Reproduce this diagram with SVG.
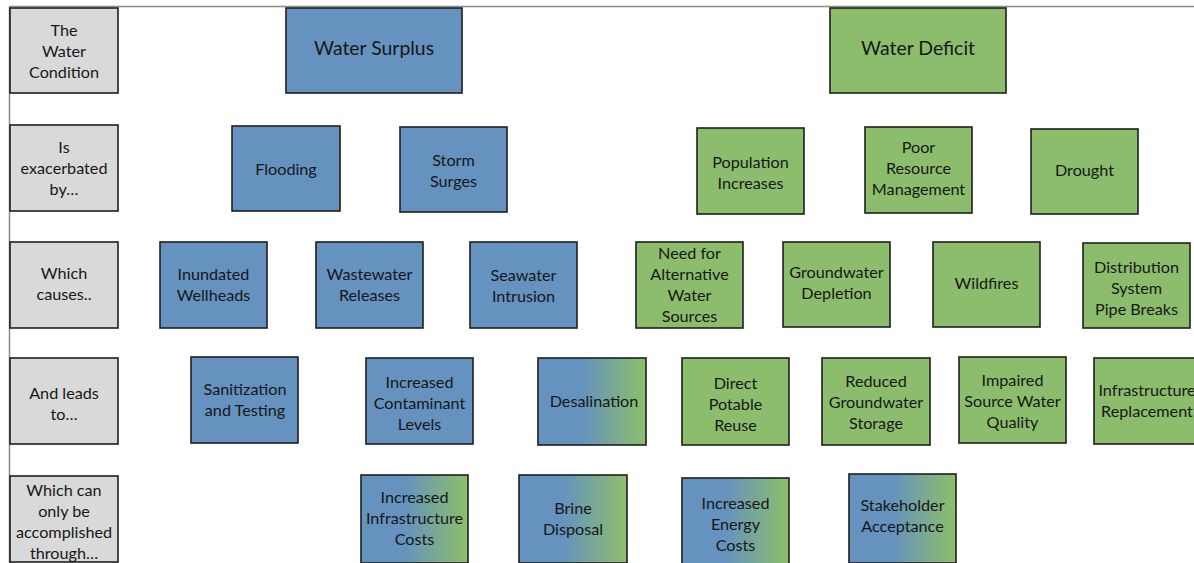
<svg xmlns="http://www.w3.org/2000/svg" width="1194" height="563" viewBox="0 0 1194 563">
<style>
rect{stroke:#1f1f1f;stroke-width:1.6}
.g{fill:#d9d9d9}
.b{fill:#6592be}
.gr{fill:#8cbd6c}
.m{fill:url(#bg)}
text{font-family:Lato,"Liberation Sans",sans-serif;font-size:16.2px;fill:#171717;text-anchor:middle}
.big{font-size:19.4px}
</style>
<defs>
<linearGradient id="bg" x1="0" y1="0" x2="1" y2="0">
<stop offset="0" stop-color="#6592be"/>
<stop offset="0.4" stop-color="#6592be"/>
<stop offset="1" stop-color="#8dbf69"/>
</linearGradient>
</defs>
<path d="M9.5 563V6.5H1194" fill="none" stroke="#8a8a8a" stroke-width="1.5"/>
<g id="lbl1"><rect class="g" x="10" y="8" width="108" height="85"/><text x="64" y="35.5">The</text><text x="64" y="56.5">Water</text><text x="64" y="77.5">Condition</text></g>
<g id="lbl2"><rect class="g" x="10" y="125" width="108" height="86"/><text x="64" y="152.5">Is</text><text x="64" y="173.5">exacerbated</text><text x="64" y="194.5">by…</text></g>
<g id="lbl3"><rect class="g" x="10" y="242" width="108" height="86"/><text x="64" y="279">Which</text><text x="64" y="300">causes..</text></g>
<g id="lbl4"><rect class="g" x="10" y="358" width="108" height="86"/><text x="64" y="399">And leads</text><text x="64" y="420">to…</text></g>
<g id="lbl5"><rect class="g" x="10" y="476" width="108" height="86"/><text x="64" y="495.5">Which can</text><text x="64" y="516.5">only be</text><text x="64" y="537.5">accomplished</text><text x="64" y="558.5">through…</text></g>

<g id="surplus"><rect class="b" x="286" y="8" width="176" height="85"/><text class="big" x="374" y="55">Water Surplus</text></g>
<g id="deficit"><rect class="gr" x="830" y="8" width="176" height="85"/><text class="big" x="918" y="55">Water Deficit</text></g>

<g id="flooding"><rect class="b" x="232" y="126" width="108" height="85"/><text x="286" y="175">Flooding</text></g>
<g id="storm"><rect class="b" x="400" y="127" width="107" height="85"/><text x="453.5" y="166">Storm</text><text x="453.5" y="187">Surges</text></g>
<g id="population"><rect class="gr" x="697" y="128" width="107" height="86"/><text x="750.5" y="168">Population</text><text x="750.5" y="189">Increases</text></g>
<g id="poor"><rect class="gr" x="865" y="127" width="107" height="86"/><text x="918.5" y="152.5">Poor</text><text x="918.5" y="173.5">Resource</text><text x="918.5" y="194.5">Management</text></g>
<g id="drought"><rect class="gr" x="1031" y="129" width="107" height="85"/><text x="1084.5" y="176">Drought</text></g>

<g id="inundated"><rect class="b" x="160" y="242" width="107" height="86"/><text x="213.5" y="280">Inundated</text><text x="213.5" y="301">Wellheads</text></g>
<g id="wastewater"><rect class="b" x="316" y="242" width="107" height="86"/><text x="369.5" y="280">Wastewater</text><text x="369.5" y="301">Releases</text></g>
<g id="seawater"><rect class="b" x="470" y="242" width="107" height="86"/><text x="523.5" y="281">Seawater</text><text x="523.5" y="302">Intrusion</text></g>
<g id="needalt"><rect class="gr" x="636" y="242" width="107" height="86"/><text x="689.5" y="259">Need for</text><text x="689.5" y="280">Alternative</text><text x="689.5" y="301">Water</text><text x="689.5" y="322">Sources</text></g>
<g id="gwdepletion"><rect class="gr" x="783" y="242" width="107" height="85"/><text x="836.5" y="278">Groundwater</text><text x="836.5" y="299">Depletion</text></g>
<g id="wildfires"><rect class="gr" x="933" y="242" width="107" height="85"/><text x="986.5" y="289">Wildfires</text></g>
<g id="pipebreaks"><rect class="gr" x="1083" y="243" width="107" height="85"/><text x="1136.5" y="273">Distribution</text><text x="1136.5" y="294">System</text><text x="1136.5" y="315">Pipe Breaks</text></g>

<g id="sanitization"><rect class="b" x="191" y="357" width="107" height="86"/><text x="245" y="395">Sanitization</text><text x="245" y="416">and Testing</text></g>
<g id="contaminant"><rect class="b" x="366" y="358" width="107" height="86"/><text x="419.5" y="388">Increased</text><text x="419.5" y="409">Contaminant</text><text x="419.5" y="430">Levels</text></g>
<g id="desalination"><rect class="m" x="538" y="358" width="108" height="87"/><text x="594" y="406.5">Desalination</text></g>
<g id="dpr"><rect class="gr" x="682" y="358" width="107" height="87"/><text x="735.5" y="388.5">Direct</text><text x="735.5" y="409.5">Potable</text><text x="735.5" y="430.5">Reuse</text></g>
<g id="reducedgw"><rect class="gr" x="822" y="358" width="108" height="87"/><text x="876" y="386.5">Reduced</text><text x="876" y="407.5">Groundwater</text><text x="876" y="428.5">Storage</text></g>
<g id="impaired"><rect class="gr" x="959" y="357" width="107" height="86"/><text x="1012.5" y="385.5">Impaired</text><text x="1012.5" y="406.5">Source Water</text><text x="1012.5" y="427.5">Quality</text></g>
<g id="infrarepl"><rect class="gr" x="1094" y="358" width="110" height="86"/><text x="1147" y="396">Infrastructure</text><text x="1147" y="417">Replacement</text></g>

<g id="infracosts"><rect class="m" x="361" y="475" width="107" height="88"/><text x="414.5" y="503">Increased</text><text x="414.5" y="524">Infrastructure</text><text x="414.5" y="545">Costs</text></g>
<g id="brine"><rect class="m" x="519" y="475" width="108" height="88"/><text x="573" y="514">Brine</text><text x="573" y="535">Disposal</text></g>
<g id="energy"><rect class="m" x="682" y="478" width="107" height="87"/><text x="735.5" y="509">Increased</text><text x="735.5" y="530">Energy</text><text x="735.5" y="551">Costs</text></g>
<g id="stakeholder"><rect class="m" x="849" y="474" width="107" height="89"/><text x="902.5" y="511">Stakeholder</text><text x="902.5" y="532">Acceptance</text></g>
<g id="connectors"></g>
</svg>
